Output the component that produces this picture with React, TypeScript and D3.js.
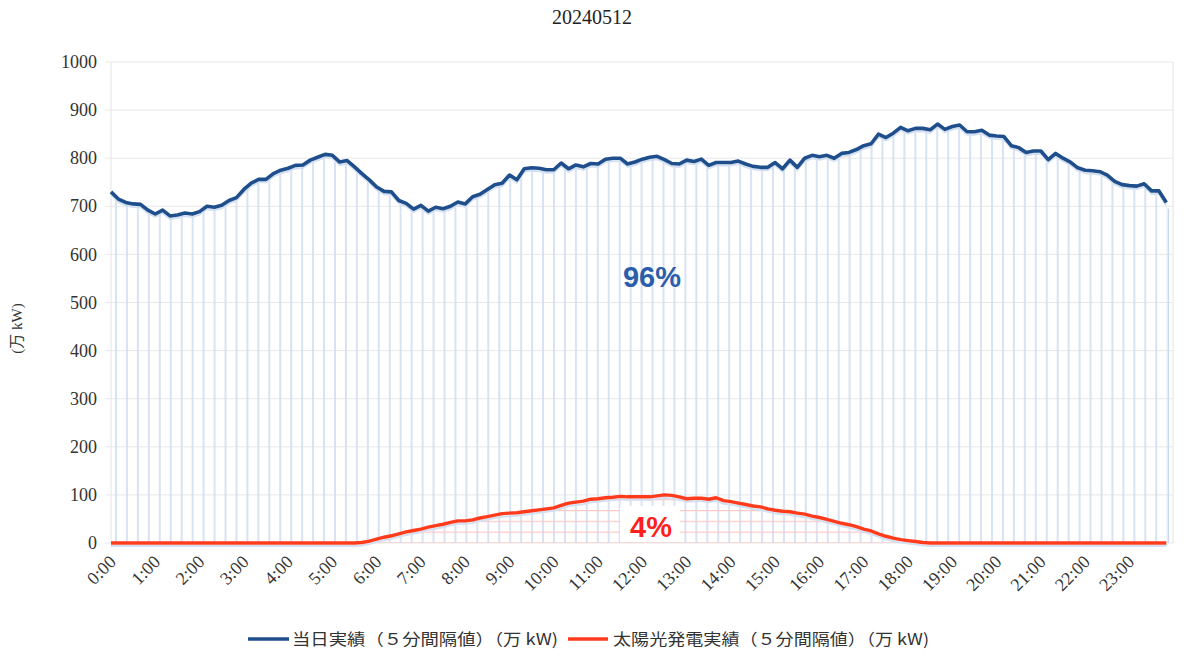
import React from 'react';
import * as d3 from 'd3';

// 10分ごとの読み取り値 (0:00 〜 23:50)
const title = '20240512';
const stepMin = 10;
const yTicks = [0, 100, 200, 300, 400, 500, 600, 700, 800, 900, 1000];
const hourLabels = ['0:00', '1:00', '2:00', '3:00', '4:00', '5:00', '6:00', '7:00', '8:00', '9:00', '10:00', '11:00',
  '12:00', '13:00', '14:00', '15:00', '16:00', '17:00', '18:00', '19:00', '20:00', '21:00', '22:00', '23:00'];

const demand = [
  730, 715, 708, 705, 704, 692, // 0時
  684, 692, 680, 682, 686, 684, // 1時
  689, 700, 698, 702, 712, 718, // 2時
  735, 748, 756, 756, 768, 775, // 3時
  779, 785, 786, 796, 802, 808, // 4時
  806, 792, 795, 782, 768, 755, // 5時
  740, 731, 730, 712, 706, 694, // 6時
  702, 690, 698, 695, 700, 709, // 7時
  705, 720, 725, 735, 745, 748, // 8時
  765, 755, 778, 780, 779, 776, // 9時
  776, 790, 778, 786, 782, 789, // 10時
  788, 798, 800, 800, 788, 792, // 11時
  798, 802, 804, 797, 789, 788, // 12時
  796, 793, 798, 785, 791, 791, // 13時
  791, 794, 788, 783, 781, 781, // 14時
  791, 778, 796, 781, 800, 806, // 15時
  803, 806, 800, 810, 812, 818, // 16時
  826, 830, 850, 843, 852, 864, // 17時
  857, 862, 862, 859, 871, 860, // 18時
  866, 869, 855, 855, 858, 848, // 19時
  846, 845, 826, 822, 812, 815, // 20時
  815, 797, 810, 800, 792, 780, // 21時
  775, 774, 772, 765, 752, 745, // 22時
  743, 742, 747, 732, 732, 708, // 23時
];

const solar = [
  0, 0, 0, 0, 0, 0,
  0, 0, 0, 0, 0, 0,
  0, 0, 0, 0, 0, 0,
  0, 0, 0, 0, 0, 0,
  0, 0, 0, 0, 0, 0,
  0, 0, 0, 0, 1, 4,
  8, 12, 15, 19, 23, 26,
  29, 33, 36, 39, 43, 46,
  46, 48, 52, 55, 58, 61,
  62, 63, 65, 67, 69, 71,
  73, 78, 83, 85, 87, 91,
  92, 94, 95, 97, 96, 96,
  96, 96, 98, 100, 99, 96,
  92, 93, 93, 91, 94, 88,
  86, 83, 80, 77, 75, 71,
  68, 66, 65, 62, 60, 56,
  53, 49, 45, 41, 38, 34,
  29, 25, 19, 14, 10, 7,
  5, 3, 1, 0, 0, 0,
  0, 0, 0, 0, 0, 0,
  0, 0, 0, 0, 0, 0,
  0, 0, 0, 0, 0, 0,
  0, 0, 0, 0, 0, 0,
  0, 0, 0, 0, 0, 0,
];

const legendItems = [
  { label: '当日実績（５分間隔値）（万 kW)', color: '#1f4e8c' },
  { label: '太陽光発電実績（５分間隔値）（万 kW)', color: '#ff3b1c' },
];

const W = 1184;
const H = 663;
const left = 111;
const right = 1170;
const top = 62;
const bottom = 543;

const App = () => {
  const x = d3.scaleLinear().domain([0, 1435]).range([left, right]);
  const y = d3.scaleLinear().domain([0, 1000]).range([bottom, top]);

  const demandPts = demand.map((v, i) => [i * stepMin, v]);
  const solarPts = solar.map((v, i) => [i * stepMin, v]);

  const line = d3.line().x(d => x(d[0])).y(d => y(d[1]));
  const area = d3.area().x(d => x(d[0])).y0(y(0)).y1(d => y(d[1]));

  const lastX = x(demandPts[demandPts.length - 1][0]);
  const lastY = y(demand[demand.length - 1]);
  const fontSerif = '"Liberation Serif", "DejaVu Serif", serif';
  const fontJp = '"Noto Sans CJK JP", "Noto Sans", sans-serif';

  return (
    <svg width={W} height={H} style={{ position: 'absolute', left: 0, top: 0, background: '#fff' }}>
      <defs>
        <pattern id="vhatch" patternUnits="userSpaceOnUse" x={left} y={0} width={10.95} height={10}>
          <line x1={5} x2={5} y1={0} y2={10} stroke="#d1def1" strokeWidth={1.7} />
        </pattern>
        <pattern id="hhatch" patternUnits="userSpaceOnUse" x={0} y={bottom - 0.6} width={10} height={10.8}>
          <line x1={0} x2={10} y1={0.6} y2={0.6} stroke="#f9c9c6" strokeWidth={1.2} />
        </pattern>
      </defs>

      <text x={W / 2} y={24} textAnchor="middle" fontFamily={fontSerif} fontSize={20} fill="#222">{title}</text>

      {/* grid */}
      <g>
        {yTicks.map(t => (
          <g key={t}>
            <line x1={105} x2={1173} y1={y(t)} y2={y(t)} stroke="#e8e8e8" strokeWidth={1} />
            <text x={97} y={y(t)} dy="0.34em" textAnchor="end" fontFamily={fontSerif} fontSize={18} fill="#333">{t}</text>
          </g>
        ))}
        <line x1={left} x2={left} y1={top} y2={bottom} stroke="#e4e4e4" />
        <line x1={1173} x2={1173} y1={top} y2={bottom} stroke="#e4e4e4" />
      </g>

      <text transform={`translate(22, ${(top + bottom) / 2 + 26}) rotate(-90)`} textAnchor="middle"
        fontFamily={`"Liberation Serif", "Noto Sans CJK JP", serif`} fontSize={15} fill="#333">(万 kW)</text>

      {/* demand hatched area */}
      <path d={area(demandPts) || ''} fill="url(#vhatch)" />
      <path d={line(demandPts) || ''} transform="translate(0,3)" fill="none" stroke="#d3e0f1" strokeWidth={2} />
      <line x1={lastX + 2} x2={lastX + 2} y1={lastY + 6} y2={bottom} stroke="#c8d7ec" strokeWidth={1.5} />

      {/* solar hatched area */}
      <path d={area(solarPts) || ''} fill="url(#hhatch)" />
      <path d={line(solarPts) || ''} transform="translate(0,3)" fill="none" stroke="#d3e0f1" strokeWidth={2} />

      {/* 4% label box */}
      <rect x={620} y={506} width={60} height={36} fill="#fff" />

      <path d={line(demandPts) || ''} fill="none" stroke="#1f4e8c" strokeWidth={3.6} strokeLinejoin="round" />
      <path d={line(solarPts) || ''} fill="none" stroke="#ff3b1c" strokeWidth={3.4} strokeLinejoin="round" />

      <text x={652} y={287} textAnchor="middle" fontFamily='"Liberation Sans", Arial, sans-serif' fontWeight="bold"
        fontSize={29} fill="#2b5ea8">96%</text>
      <text x={651} y={537} textAnchor="middle" fontFamily='"Liberation Sans", Arial, sans-serif' fontWeight="bold"
        fontSize={29} fill="#ff1f1f">4%</text>

      {/* x labels */}
      {hourLabels.map((lab, i) => (
        <text key={lab} transform={`translate(${x(i * 60) + 6}, ${bottom + 20}) rotate(-45)`} textAnchor="end"
          fontFamily={fontSerif} fontSize={18} fill="#333">{lab}</text>
      ))}

      {/* legend */}
      <g>
        <line x1={248} x2={289} y1={639} y2={639} stroke={legendItems[0].color} strokeWidth={3.5} />
        <text x={292} y={639} dy="0.35em" fontFamily={fontJp} fontSize={16} fill="#333"
          textLength={266} lengthAdjust="spacingAndGlyphs">{legendItems[0].label}</text>
        <line x1={568} x2={608} y1={639} y2={639} stroke={legendItems[1].color} strokeWidth={3.5} />
        <text x={613} y={639} dy="0.35em" fontFamily={fontJp} fontSize={16} fill="#333"
          textLength={316} lengthAdjust="spacingAndGlyphs">{legendItems[1].label}</text>
      </g>
    </svg>
  );
};

export default App;
